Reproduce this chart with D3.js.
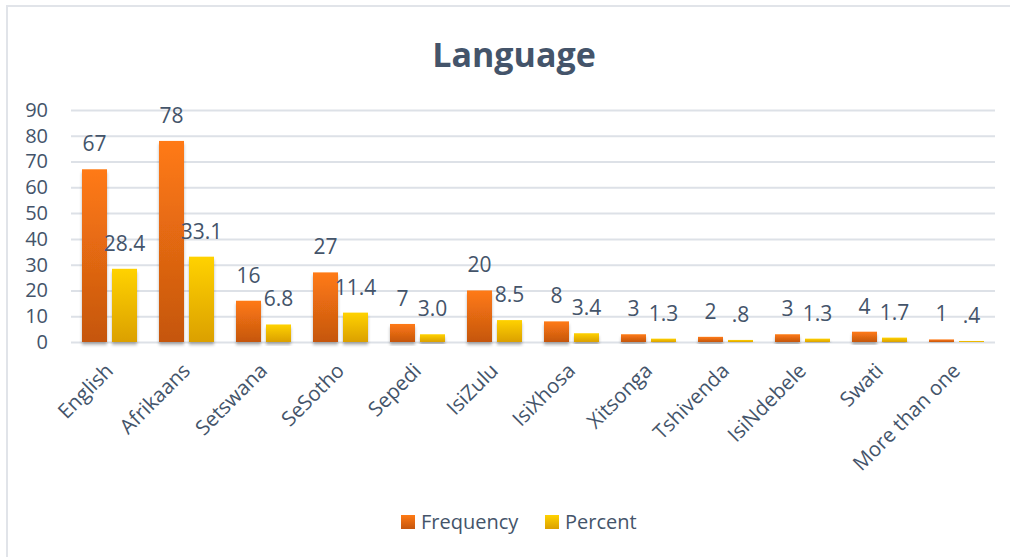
<!DOCTYPE html>
<html>
<head>
<meta charset="utf-8">
<script src="https://cdn.jsdelivr.net/npm/d3@7"></script>
<style>
  html, body { margin: 0; padding: 0; background: #fff; }
  svg { display: block; font-family: "Open Sans", sans-serif; }
</style>
</head>
<body>
<svg id="chart" width="1010" height="557"></svg>
<script>
// Languages spoken by respondents: counts and share of the sample
const categories = ["English", "Afrikaans", "Setswana", "SeSotho", "Sepedi", "IsiZulu",
  "IsiXhosa", "Xitsonga", "Tshivenda", "IsiNdebele", "Swati", "More than one"];
const frequency = [67, 78, 16, 27, 7, 20, 8, 3, 2, 3, 4, 1];
const percent = [28.4, 33.1, 6.8, 11.4, 3.0, 8.5, 3.4, 1.3, 0.8, 1.3, 1.7, 0.4];
const seriesNames = ["Frequency", "Percent"];
const yTicks = [0, 10, 20, 30, 40, 50, 60, 70, 80, 90];

const textColor = "#44546a";
const svg = d3.select("#chart");

// Outer chart frame
svg.append("rect")
  .attr("x", 7).attr("y", 6).attr("width", 1020).attr("height", 570)
  .attr("fill", "#fff").attr("stroke", "#e1e4e9").attr("stroke-width", 2);

const defs = svg.append("defs");
function vGrad(id, top, bottom) {
  const g = defs.append("linearGradient").attr("id", id)
    .attr("x1", 0).attr("y1", 0).attr("x2", 0).attr("y2", 1);
  g.append("stop").attr("offset", "0%").attr("stop-color", top);
  g.append("stop").attr("offset", "100%").attr("stop-color", bottom);
}
vGrad("gFreq", "#ff7a14", "#c5560f");
vGrad("gPct", "#ffd200", "#dba000");
const shadow = defs.append("filter").attr("id", "barShadow")
  .attr("x", "-20%").attr("y", "-20%").attr("width", "140%").attr("height", "140%");
shadow.append("feDropShadow").attr("dx", 0).attr("dy", 3).attr("stdDeviation", 1.6)
  .attr("flood-color", "#000").attr("flood-opacity", 0.28);

const fills = { Frequency: "url(#gFreq)", Percent: "url(#gPct)" };

// Scales
const x = d3.scaleBand().domain(categories).range([71, 995])
  .paddingInner(22 / 77).paddingOuter(11 / 77);
const xs = d3.scaleBand().domain(seriesNames).range([0, x.bandwidth()])
  .paddingInner(5 / 30).paddingOuter(0);
const y = d3.scaleLinear().domain([0, 90]).range([342, 110]);

// Title
svg.append("text")
  .attr("x", 514).attr("y", 67)
  .attr("text-anchor", "middle")
  .attr("font-size", 34).attr("font-weight", 700)
  .attr("fill", textColor)
  .text("Language");

// Gridlines and y labels
const yAxis = d3.axisLeft(y).tickValues(yTicks).tickSize(-(995 - 71)).tickPadding(23)
  .tickFormat(d3.format("d"));
const yg = svg.append("g").attr("transform", "translate(71,0)").call(yAxis);
yg.select(".domain").remove();
yg.selectAll(".tick line").attr("stroke", "#dde1e7").attr("stroke-width", 2);
yg.selectAll(".tick text")
  .attr("fill", textColor).attr("font-size", 20)
  .attr("font-family", "Open Sans, sans-serif");

// Bars
const rows = categories.map((c, i) => ({ cat: c, Frequency: frequency[i], Percent: percent[i] }));
const groups = svg.append("g").selectAll("g").data(rows).join("g")
  .attr("transform", d => `translate(${x(d.cat)},0)`);

function labelText(series, v) {
  if (series === "Frequency") return d3.format("d")(v);
  return d3.format(".1f")(v).replace(/^0\./, ".");
}

groups.selectAll("rect").data(d => seriesNames.map(s => ({ s, v: d[s] }))).join("rect")
  .attr("x", d => xs(d.s))
  .attr("width", xs.bandwidth())
  .attr("y", d => y(d.v))
  .attr("height", d => y(0) - y(d.v))
  .attr("fill", d => fills[d.s])
  .attr("filter", "url(#barShadow)");

groups.selectAll("text.val").data(d => seriesNames.map(s => ({ s, v: d[s] }))).join("text")
  .attr("class", "val")
  .attr("x", d => xs(d.s) + xs.bandwidth() / 2)
  .attr("y", d => y(d.v) - 18)
  .attr("text-anchor", "middle")
  .attr("font-size", 21)
  .attr("fill", textColor)
  .text(d => labelText(d.s, d.v));

// Category labels, rotated
svg.append("g").selectAll("text").data(categories).join("text")
  .attr("transform", d => `translate(${x(d) + x.bandwidth() / 2 + 5},372) rotate(-45)`)
  .attr("text-anchor", "end")
  .attr("font-size", 20.5)
  .attr("fill", textColor)
  .text(d => d);

// Legend
const legend = svg.append("g");
const legendItems = [{ s: "Frequency", x: 401 }, { s: "Percent", x: 545 }];
legend.selectAll("rect").data(legendItems).join("rect")
  .attr("x", d => d.x).attr("y", 515).attr("width", 14).attr("height", 14)
  .attr("fill", d => fills[d.s]);
legend.selectAll("text").data(legendItems).join("text")
  .attr("x", d => d.x + 20).attr("y", 529)
  .attr("font-size", 20).attr("fill", textColor)
  .text(d => d.s);
</script>
</body>
</html>
